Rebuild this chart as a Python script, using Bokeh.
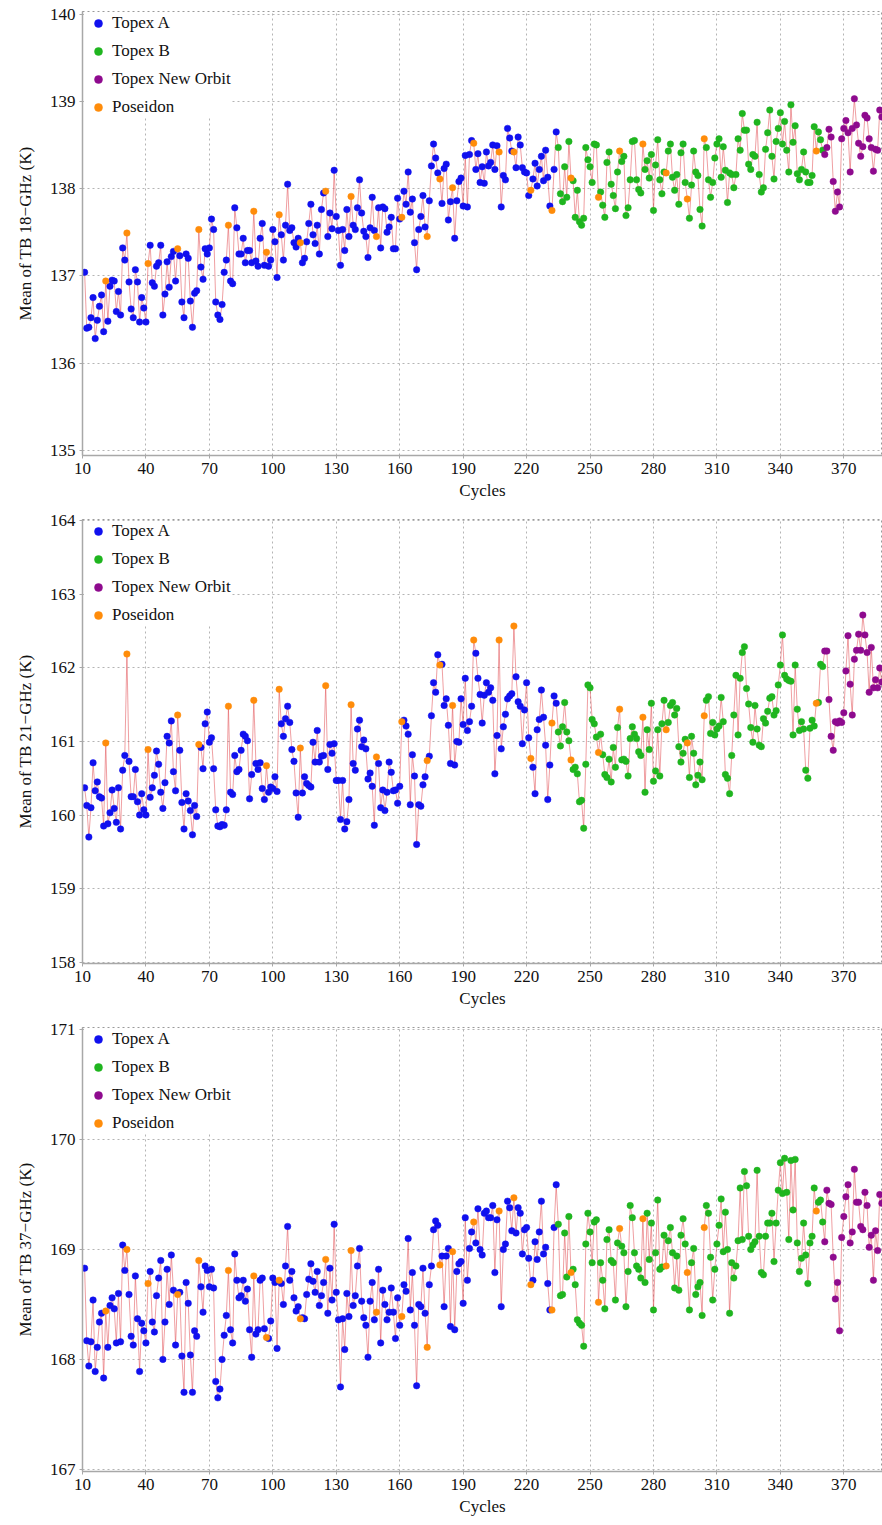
from bokeh.plotting import figure
from bokeh.layouts import column
from bokeh.models import Range1d, FixedTicker, Legend, LegendItem
from bokeh.embed import file_html
from bokeh.resources import INLINE

# Mission cycles
cycles = list(range(11, 389))
topex_b_first = 235
new_orbit_first = 361
poseidon_cycles = [21, 31, 41, 55, 65, 79, 91, 97, 103, 113, 125, 137, 149, 161, 173,
                   179, 185, 195, 207, 214, 222, 232, 241, 254, 264, 275, 286, 296, 304, 357]

x_ticks = [10, 40, 70, 100, 130, 160, 190, 220, 250, 280, 310, 340, 370]

# Mean brightness temperature per cycle (K)
tb18 = [
    137.04, 136.40, 136.41, 136.52, 136.75, 136.28, 136.49, 136.65, 136.78, 136.36,
    136.94, 136.48, 136.88, 136.95, 136.94, 136.59, 136.82, 136.55, 137.32, 137.18,
    137.49, 136.93, 136.62, 136.52, 137.07, 136.93, 136.47, 136.75, 136.63, 136.47,
    137.14, 137.35, 136.92, 136.88, 137.11, 137.15, 137.35, 136.55, 136.79, 137.16,
    136.87, 137.22, 137.28, 136.94, 137.31, 137.23, 136.70, 136.52, 137.25, 137.20,
    136.71, 136.41, 136.80, 136.83, 137.53, 137.10, 136.96, 137.31, 137.25, 137.32,
    137.65, 137.53, 136.70, 136.55, 136.50, 136.67, 137.04, 137.18, 137.58, 136.94,
    136.91, 137.78, 137.55, 137.25, 137.25, 137.43, 137.15, 137.29, 137.29, 137.15,
    137.74, 137.17, 137.11, 137.43, 137.60, 137.12, 137.27, 137.11, 137.18, 137.53,
    137.39, 136.98, 137.70, 137.47, 137.18, 137.58, 138.05, 137.52, 137.55, 137.38,
    137.33, 137.43, 137.38, 137.15, 137.20, 137.39, 137.60, 137.82, 137.47, 137.37,
    137.58, 137.25, 137.76, 137.95, 137.97, 137.45, 137.72, 137.54, 138.21, 137.68,
    137.52, 137.12, 137.53, 137.29, 137.76, 137.45, 137.91, 137.58, 137.53, 137.78,
    138.10, 137.72, 137.51, 137.45, 137.21, 137.55, 137.90, 137.52, 137.45, 137.78,
    137.32, 137.79, 137.77, 137.50, 137.56, 137.67, 137.31, 137.31, 137.89, 137.65,
    137.67, 137.97, 137.82, 138.19, 137.73, 137.88, 137.38, 137.07, 137.53, 137.68,
    137.92, 137.56, 137.45, 137.86, 138.26, 138.51, 138.35, 138.18, 138.11, 137.83,
    138.23, 138.28, 137.64, 137.85, 138.01, 137.43, 137.86, 138.08, 138.12, 137.80,
    138.38, 137.79, 138.39, 138.55, 138.52, 138.22, 138.40, 138.07, 138.25, 138.06,
    138.42, 138.26, 138.30, 138.50, 138.22, 138.49, 138.42, 137.79, 138.15, 138.10,
    138.69, 138.58, 138.43, 138.42, 138.24, 138.59, 138.50, 138.24, 138.19, 138.18,
    137.92, 137.98, 138.11, 138.29, 138.03, 138.22, 138.37, 138.09, 138.44, 138.13,
    137.80, 137.75, 138.22, 138.65, 138.47, 137.94, 137.85, 138.25, 137.90, 138.54,
    138.12, 138.09, 137.67, 137.98, 137.62, 137.58, 137.66, 138.47, 138.33, 138.25,
    138.07, 138.51, 138.50, 137.90, 137.96, 137.81, 137.67, 138.30, 138.42, 138.05,
    137.92, 137.77, 138.19, 138.43, 138.31, 138.37, 137.69, 137.78, 138.10, 138.54,
    138.55, 138.10, 137.99, 137.95, 138.51, 138.22, 138.32, 138.12, 138.39, 137.75,
    138.27, 138.56, 138.10, 137.94, 138.19, 138.18, 138.43, 138.51, 138.13, 137.98,
    138.16, 137.82, 138.41, 138.51, 138.07, 137.88, 137.66, 138.04, 138.43, 138.19,
    138.15, 137.76, 137.57, 138.57, 138.47, 138.10, 137.90, 138.07, 138.35, 138.51,
    138.57, 138.13, 138.48, 138.21, 137.84, 138.18, 138.16, 138.01, 138.16, 138.57,
    138.44, 138.86, 138.67, 138.67, 138.28, 138.22, 138.39, 138.37, 138.76, 138.16,
    137.96, 138.01, 138.45, 138.64, 138.90, 138.37, 138.11, 138.54, 138.69, 138.87,
    138.51, 138.77, 138.44, 138.19, 138.96, 138.53, 138.72, 138.17, 138.10, 138.22,
    138.42, 138.19, 138.07, 138.07, 138.15, 138.71, 138.43, 138.65, 138.56, 138.44,
    138.39, 138.47, 138.68, 138.59, 138.08, 137.74, 137.96, 137.79, 138.57, 138.69,
    138.78, 138.64, 138.19, 138.69, 139.03, 138.73, 138.52, 138.37, 138.48, 138.84,
    138.81, 138.57, 138.47, 138.20, 138.45, 138.44, 138.90, 138.82,
]

tb21 = [
    160.37, 160.13, 159.70, 160.10, 160.71, 160.33, 160.45, 160.25, 160.23, 159.85,
    160.98, 159.88, 160.03, 160.34, 160.09, 159.90, 160.37, 159.81, 160.61, 160.81,
    162.19, 160.73, 160.25, 160.25, 160.62, 160.18, 160.00, 160.29, 160.07, 160.00,
    160.89, 160.24, 160.37, 160.54, 160.87, 160.69, 160.31, 160.09, 160.44, 161.07,
    160.98, 161.28, 160.59, 160.33, 161.36, 160.88, 160.17, 159.81, 160.29, 160.19,
    160.06, 159.73, 160.13, 159.98, 160.96, 160.92, 160.63, 161.24, 161.40, 160.99,
    161.05, 160.63, 160.07, 159.85, 159.84, 159.87, 159.86, 160.07, 161.48, 160.31,
    160.28, 160.81, 160.59, 160.62, 160.88, 161.10, 161.07, 161.01, 160.22, 160.55,
    161.56, 160.70, 160.62, 160.71, 160.36, 160.21, 160.67, 160.31, 160.38, 160.36,
    160.52, 160.32, 161.71, 161.24, 161.07, 161.31, 161.48, 161.26, 160.89, 160.73,
    160.30, 159.97, 160.91, 160.30, 160.52, 160.43, 160.40, 160.38, 160.99, 160.72,
    161.15, 160.72, 160.80, 160.81, 161.76, 160.62, 160.96, 160.84, 160.97, 160.47,
    160.47, 159.94, 160.47, 159.81, 159.91, 160.21, 161.50, 160.70, 160.61, 161.17,
    161.29, 160.93, 161.02, 160.90, 160.49, 160.57, 160.39, 159.86, 160.79, 160.70,
    160.10, 160.34, 160.06, 160.31, 160.72, 160.58, 160.33, 160.34, 160.16, 160.39,
    161.27, 161.29, 161.21, 161.10, 160.14, 160.82, 160.53, 159.60, 160.14, 160.12,
    160.41, 160.52, 160.74, 160.80, 161.35, 161.80, 161.67, 162.18, 162.04, 162.05,
    161.49, 161.58, 161.22, 160.70, 161.49, 160.68, 161.00, 160.99, 161.58, 161.23,
    161.86, 161.15, 161.27, 161.48, 162.38, 162.20, 161.86, 161.64, 161.25, 161.63,
    161.80, 161.67, 161.73, 161.56, 160.56, 161.08, 162.38, 160.90, 161.20, 161.37,
    161.58, 161.62, 161.65, 162.57, 161.88, 161.54, 161.48, 160.97, 161.43, 161.80,
    161.05, 160.77, 160.65, 160.29, 161.16, 161.30, 161.70, 161.33, 160.95, 160.21,
    160.68, 161.25, 161.62, 161.52, 161.13, 160.94, 161.20, 161.53, 161.13, 161.01,
    160.75, 160.62, 160.65, 160.56, 160.18, 160.20, 159.82, 160.69, 161.77, 161.73,
    161.30, 161.24, 161.06, 160.85, 161.10, 160.82, 160.55, 160.51, 160.76, 160.45,
    160.92, 160.65, 161.19, 161.44, 160.75, 160.76, 160.73, 160.53, 161.04, 161.20,
    161.10, 161.04, 160.86, 160.81, 161.33, 160.31, 161.16, 160.89, 161.52, 160.46,
    160.60, 161.16, 160.53, 161.24, 161.56, 161.16, 161.26, 161.49, 161.53, 161.36,
    161.45, 160.93, 160.72, 160.84, 161.03, 160.98, 160.51, 161.07, 160.84, 160.41,
    160.54, 160.72, 160.48, 161.35, 161.56, 161.61, 161.11, 161.26, 161.09, 161.17,
    161.21, 161.60, 161.27, 160.55, 160.50, 160.29, 160.81, 161.36, 161.90, 161.09,
    161.86, 162.21, 162.29, 161.72, 161.51, 161.19, 160.99, 161.49, 161.17, 160.95,
    160.93, 161.31, 161.25, 161.41, 161.59, 161.61, 161.36, 161.42, 161.77, 162.04,
    162.45, 161.90, 161.85, 161.83, 161.82, 161.09, 162.04, 161.44, 161.15, 161.27,
    161.17, 160.61, 160.50, 161.18, 161.29, 161.21, 161.52, 161.53, 162.05, 162.02,
    162.23, 162.23, 161.57, 161.07, 160.88, 161.27, 161.25, 161.28, 161.26, 161.39,
    161.96, 162.44, 161.78, 161.36, 162.12, 162.24, 162.46, 162.24, 162.72, 162.45,
    162.21, 161.67, 162.28, 161.73, 161.84, 161.73, 162.00, 161.81,
]

tb37 = [
    168.83, 168.17, 167.94, 168.16, 168.54, 167.89, 168.11, 168.34, 168.42, 167.83,
    168.44, 168.11, 168.49, 168.56, 168.46, 168.15, 168.60, 168.16, 169.04, 168.81,
    169.00, 168.59, 168.21, 168.13, 168.76, 168.37, 167.89, 168.33, 168.26, 168.15,
    168.69, 168.80, 168.34, 168.25, 168.58, 168.74, 168.90, 168.00, 168.34, 168.82,
    168.50, 168.95, 168.63, 168.13, 168.59, 168.61, 168.03, 167.70, 168.70, 168.51,
    168.04, 167.70, 168.26, 168.21, 168.90, 168.66, 168.43, 168.85, 168.81, 168.66,
    168.82, 168.65, 167.80, 167.65, 167.73, 168.00, 168.22, 168.40, 168.81, 168.27,
    168.15, 168.96, 168.72, 168.56, 168.58, 168.72, 168.53, 168.64, 168.27, 168.02,
    168.76, 168.23, 168.27, 168.72, 168.74, 168.28, 168.20, 168.19, 168.35, 168.74,
    168.70, 168.10, 168.72, 168.69, 168.50, 168.85, 169.21, 168.72, 168.80, 168.56,
    168.44, 168.48, 168.37, 168.38, 168.37, 168.59, 168.73, 168.87, 168.71, 168.61,
    168.80, 168.49, 168.58, 168.70, 168.91, 168.42, 168.83, 168.54, 169.23, 168.61,
    168.36, 167.75, 168.37, 168.09, 168.60, 168.39, 168.99, 168.49, 168.58, 168.85,
    169.01, 168.53, 168.38, 168.31, 168.02, 168.53, 168.70, 168.36, 168.43, 168.82,
    168.15, 168.63, 168.50, 168.36, 168.43, 168.65, 168.43, 168.19, 168.56, 168.31,
    168.39, 168.68, 168.62, 169.10, 168.45, 168.79, 168.31, 167.76, 168.50, 168.48,
    168.83, 168.42, 168.11, 168.68, 168.85, 169.18, 169.26, 169.22, 168.86, 168.94,
    168.48, 168.94, 169.01, 168.30, 168.98, 168.27, 168.80, 168.87, 168.89, 168.51,
    169.29, 168.72, 169.01, 169.16, 169.25, 169.06, 169.37, 169.00, 168.95, 169.33,
    169.35, 169.29, 169.29, 169.40, 168.79, 169.27, 169.35, 168.48, 169.00, 169.05,
    169.44, 169.38, 169.17, 169.47, 169.15, 169.38, 169.33, 168.96, 169.18, 169.20,
    168.92, 168.68, 168.72, 169.07, 168.91, 169.16, 169.44, 168.96, 169.02, 168.69,
    168.45, 168.45, 169.20, 169.59, 169.23, 168.58, 168.59, 169.15, 168.75, 169.30,
    168.79, 168.82, 168.68, 168.36, 168.33, 168.31, 168.12, 169.05, 169.33, 169.16,
    168.88, 169.25, 169.27, 168.52, 168.88, 168.72, 168.46, 169.09, 169.18, 168.90,
    168.88, 168.54, 169.06, 169.19, 169.03, 168.97, 168.48, 168.80, 169.40, 169.29,
    168.97, 168.85, 168.82, 168.74, 169.28, 168.70, 169.33, 168.91, 169.24, 168.45,
    168.97, 169.45, 168.82, 168.84, 169.13, 168.85, 169.08, 169.20, 168.97, 168.65,
    168.94, 168.63, 169.13, 169.28, 169.05, 168.79, 168.45, 168.88, 169.01, 168.59,
    168.66, 168.70, 168.40, 169.20, 169.40, 169.33, 168.93, 168.54, 168.82, 169.05,
    169.22, 169.46, 168.98, 169.34, 169.00, 168.42, 168.88, 168.74, 168.85, 169.08,
    169.56, 169.09, 169.71, 169.58, 169.12, 169.00, 169.04, 169.07, 169.72, 169.12,
    168.79, 168.77, 169.12, 169.24, 169.24, 169.33, 168.89, 169.24, 169.54, 169.79,
    169.51, 169.83, 169.52, 169.09, 169.81, 169.36, 169.82, 169.06, 168.80, 168.92,
    169.24, 168.95, 168.69, 169.06, 169.12, 169.56, 169.35, 169.43, 169.45, 169.25,
    169.07, 169.54, 169.42, 169.41, 168.93, 168.55, 168.70, 168.26, 169.11, 169.30,
    169.48, 169.59, 169.06, 169.16, 169.73, 169.43, 169.43, 169.21, 169.18, 169.52,
    169.40, 169.02, 169.13, 168.72, 169.17, 168.99, 169.50, 169.42,
]

missions = ["Topex A", "Topex B", "Topex New Orbit", "Poseidon"]
mission_colors = {"Topex A": "#1010ee", "Topex B": "#1fb51f",
                  "Topex New Orbit": "#8e0a8e", "Poseidon": "#ff8c0a"}

FONT = "Liberation Serif"


def mission_of(c):
    if c in poseidon_cycles:
        return "Poseidon"
    if c >= new_orbit_first:
        return "Topex New Orbit"
    if c >= topex_b_first:
        return "Topex B"
    return "Topex A"


cycle_mission = [mission_of(c) for c in cycles]


def make_panel(values, y_lo, y_hi, y_ticks, y_label):
    p = figure(width=882, height=508, output_backend="svg", toolbar_location=None,
               x_range=Range1d(10, 388.3), y_range=Range1d(y_lo, y_hi),
               min_border_left=82, min_border_right=0, min_border_top=11,
               min_border_bottom=53, background_fill_color="white")
    p.outline_line_color = "#9a9a9a"
    p.outline_line_dash = "2 3"
    p.outline_line_width = 1

    # connecting line through all cycles
    p.line(cycles, values, line_color="#e0474c", line_width=0.7, line_alpha=0.75)

    items = []
    for m in missions:
        xs = [c for c, mm in zip(cycles, cycle_mission) if mm == m]
        ys = [v for v, mm in zip(values, cycle_mission) if mm == m]
        r = p.scatter(xs, ys, size=6.5, fill_color=mission_colors[m],
                      line_color=mission_colors[m], line_width=0.5)
        items.append(LegendItem(label=m, renderers=[r]))

    legend = Legend(items=items, location="top_left", margin=2, padding=0,
                    spacing=8, glyph_width=28, glyph_height=20, label_height=20,
                    label_standoff=0, border_line_color=None,
                    background_fill_color="white", background_fill_alpha=1.0,
                    label_text_font=FONT, label_text_font_size="17px",
                    label_text_color="#111111")
    p.add_layout(legend)

    p.xaxis.ticker = FixedTicker(ticks=x_ticks)
    p.yaxis.ticker = FixedTicker(ticks=y_ticks)
    for ax in (p.xaxis[0], p.yaxis[0]):
        ax.axis_line_color = "#a8a8a8"
        ax.axis_line_width = 1.5
        ax.major_tick_line_color = "#a8a8a8"
        ax.major_tick_in = 0
        ax.major_tick_out = 3
        ax.minor_tick_line_color = None
        ax.major_label_text_font = FONT
        ax.major_label_text_font_size = "17px"
        ax.major_label_text_color = "#111111"
        ax.axis_label_text_font = FONT
        ax.axis_label_text_font_size = "17px"
        ax.axis_label_text_font_style = "normal"
        ax.axis_label_text_color = "#111111"
    p.xaxis.axis_label = "Cycles"
    p.xaxis.axis_label_standoff = 4
    p.xaxis.major_label_standoff = 4
    p.yaxis.axis_label = y_label
    p.yaxis.axis_label_standoff = 12
    p.yaxis.major_label_standoff = 4

    for g in (p.xgrid[0], p.ygrid[0]):
        g.grid_line_color = "#b4b4b4"
        g.grid_line_dash = "2 3"
        g.grid_line_width = 1
    return p


p1 = make_panel(tb18, 134.94, 140.03, [135, 136, 137, 138, 139, 140], "Mean of TB 18\u2212GHz (K)")
p2 = make_panel(tb21, 157.98, 164.02, [158, 159, 160, 161, 162, 163, 164], "Mean of TB 21\u2212GHz (K)")
p3 = make_panel(tb37, 166.98, 171.02, [167, 168, 169, 170, 171], "Mean of TB 37\u2212GHz (K)")

layout = column(p1, p2, p3, spacing=0)
open("out.html", "w").write(file_html(layout, INLINE))
